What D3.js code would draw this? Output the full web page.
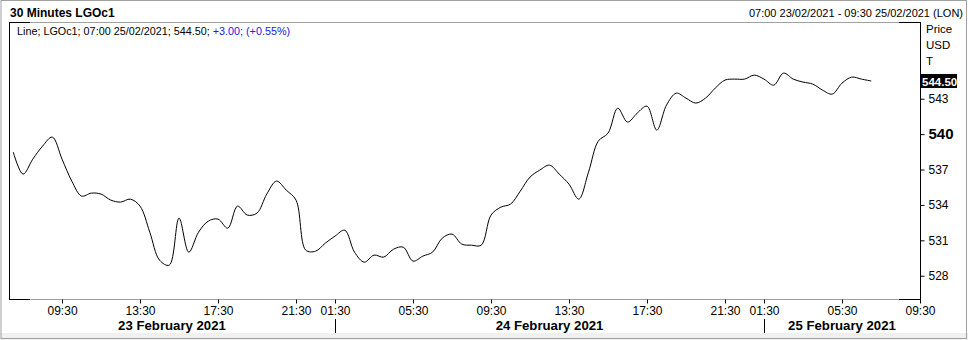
<!DOCTYPE html>
<html><head><meta charset="utf-8">
<script src="https://cdn.jsdelivr.net/npm/d3@7"></script>
<style>
html,body{margin:0;padding:0;background:#fff;}
svg{display:block;font-family:"Liberation Sans",Arial,sans-serif;}
</style></head>
<body><svg id="chart" width="968" height="340"></svg>
<script>
// ---- data ----
const title = "30 Minutes LGOc1";
const rangeLabel = "07:00 23/02/2021 - 09:30 25/02/2021 (LON)";
const legendMain = "Line; LGOc1; 07:00 25/02/2021; 544.50; ";
const legendChange = "+3.00; (+0.55%)";
const lastPrice = 544.50;
const days = ["23 February 2021", "24 February 2021", "25 February 2021"];
// trading sessions (London): [first bar hour, bar count]
const sessionStart = [7, 1, 1];
const sessionBars = [32, 44, 18];
const prices = [
 538.47,536.61,537.88,538.98,539.75,537.88,536.02,534.75,535.00,534.92,
 534.41,534.24,534.49,533.90,531.69,529.32,528.90,532.88,530.00,531.69,
 532.63,532.80,532.03,533.90,533.14,533.31,534.92,536.02,535.25,534.41,
 530.17,530.08,530.76,531.36,531.86,530.00,529.15,529.75,529.58,530.25,
 530.42,529.24,529.66,530.00,531.19,531.53,530.68,530.59,530.59,533.14,
 533.81,534.07,535.17,536.36,536.95,537.37,536.61,535.76,534.49,536.78,
 539.41,540.08,542.20,541.02,541.78,542.37,540.34,542.46,543.47,543.05,
 542.63,543.05,543.90,544.58,544.66,544.66,545.00,544.66,544.15,545.17,
 544.66,544.41,544.24,543.73,543.39,544.32,544.83,544.66,544.50
];
const yTicks = [528, 531, 534, 537, 540, 543];
const xTickLabels = ["09:30","13:30","17:30","21:30","01:30","05:30","09:30","13:30","17:30","21:30","01:30","05:30","09:30"];
const xTickDay = [0,0,0,0,1,1,1,1,1,1,2,2,2];
const axisUnits = ["Price", "USD", "T"];

// ---- build bar slots ----
const slots = [];
sessionStart.forEach((h, d) => {
  for (let k = 0; k < sessionBars[d]; k++) {
    const m = h * 60 + k * 30;
    const lab = String(Math.floor(m / 60)).padStart(2, "0") + ":" + String(m % 60).padStart(2, "0");
    slots.push({ day: d, label: lab });
  }
});
const slotIndex = (d, lab) => slots.findIndex(s => s.day === d && s.label === lab);
const xTickIdx = xTickLabels.map((l, i) => slotIndex(xTickDay[i], l));

// ---- layout ----
const L = 9, R = 920, T = 22, B = 299;
const svg = d3.select("#chart");
const x = d3.scaleLinear().domain([-0.44, slots.length - 1]).range([L, R]);
const y = d3.scaleLinear().domain([526.03, 549.5]).range([B, T]);

// outer frame
svg.append("rect").attr("x", 0).attr("y", 333).attr("width", 968).attr("height", 7).attr("fill", "#f0f0f0");
svg.append("rect").attr("x", 1).attr("y", 0.5).attr("width", 965.5).attr("height", 338).attr("fill", "none").attr("stroke", "#a0a0a0");

// header
svg.append("text").attr("x", 10).attr("y", 17).attr("font-size", 12).attr("font-weight", "bold").attr("fill", "#000").text(title);
svg.append("text").attr("x", 963).attr("y", 17).attr("font-size", 11).attr("text-anchor", "end").attr("fill", "#000").text(rangeLabel);

// plot frame
const g = svg.append("g");
g.append("line").attr("x1", L).attr("x2", R).attr("y1", T + 0.5).attr("y2", T + 0.5).attr("stroke", "#a0a0a0");
g.append("line").attr("x1", L).attr("x2", R).attr("y1", B + 0.5).attr("y2", B + 0.5).attr("stroke", "#a0a0a0");
[[L, L + 21], [R - 21, R]].forEach(([a, b]) => {
  g.append("line").attr("x1", a).attr("x2", b).attr("y1", T + 0.5).attr("y2", T + 0.5).attr("stroke", "#000");
  g.append("line").attr("x1", a).attr("x2", b).attr("y1", B + 0.5).attr("y2", B + 0.5).attr("stroke", "#000");
});
g.append("line").attr("x1", L + 0.5).attr("x2", L + 0.5).attr("y1", T).attr("y2", B + 1).attr("stroke", "#000");
g.append("line").attr("x1", R + 0.5).attr("x2", R + 0.5).attr("y1", T).attr("y2", B + 1).attr("stroke", "#000");

// clip + line
svg.append("clipPath").attr("id", "clip").append("rect").attr("x", L + 1).attr("y", T + 1).attr("width", R - L - 1).attr("height", B - T - 1);
const line = d3.line().x((d, i) => x(i)).y(d => y(d)).curve(d3.curveCatmullRom.alpha(0.5));
svg.append("path").datum(prices).attr("clip-path", "url(#clip)").attr("d", line)
  .attr("fill", "none").attr("stroke", "#000").attr("stroke-width", 1);

// legend
const lt = svg.append("text").attr("x", 17).attr("y", 35).attr("font-size", 10.8).attr("fill", "#000");
lt.append("tspan").text(legendMain);
lt.append("tspan").attr("fill", "#2020e0").text(legendChange);

// y axis
const yAxis = svg.append("g").attr("transform", `translate(${R + 0.5},0)`)
  .call(d3.axisRight(y).tickValues(yTicks).tickSize(4).tickPadding(4).tickFormat(d3.format("d")));
yAxis.select(".domain").remove();
yAxis.selectAll("line").attr("stroke", "#000");
yAxis.selectAll("text").attr("fill", "#000").attr("font-family", "Liberation Sans, Arial, sans-serif")
  .attr("font-weight", d => d === 540 ? "bold" : "normal")
  .attr("font-size", d => d === 540 ? 15 : 12);

axisUnits.forEach((u, i) => {
  svg.append("text").attr("x", 926).attr("y", 33 + i * 16).attr("font-size", 11.5).attr("fill", "#000").text(u);
});

// last price box
svg.append("rect").attr("x", 921).attr("y", y(lastPrice) - 7).attr("width", 36).attr("height", 14).attr("fill", "#000");
svg.append("text").attr("x", 922).attr("y", y(lastPrice) + 4.5).attr("font-size", 11.5).attr("font-weight", "bold")
  .attr("fill", "#fff").text(d3.format(".2f")(lastPrice));

// x axis
const xAxis = svg.append("g").attr("transform", `translate(0,${B + 0.5})`)
  .call(d3.axisBottom(x).tickValues(xTickIdx).tickSize(4).tickPadding(3).tickFormat((d, i) => xTickLabels[i]));
xAxis.select(".domain").remove();
xAxis.selectAll("line").attr("stroke", "#000");
xAxis.selectAll("text").attr("font-size", 12).attr("fill", "#000").attr("font-family", "Liberation Sans, Arial, sans-serif");

// day separators and labels
const sepIdx = [xTickIdx[4], xTickIdx[10]];
sepIdx.forEach(i => {
  svg.append("line").attr("x1", Math.round(x(i)) + 0.5).attr("x2", Math.round(x(i)) + 0.5)
    .attr("y1", 319).attr("y2", 333).attr("stroke", "#000");
});
const bounds = [L, x(sepIdx[0]), x(sepIdx[1]), R];
days.forEach((dname, i) => {
  svg.append("text").attr("x", (bounds[i] + bounds[i + 1]) / 2).attr("y", 330).attr("text-anchor", "middle")
    .attr("font-size", 13.2).attr("font-weight", "bold").attr("fill", "#000").text(dname);
});
</script></body></html>
